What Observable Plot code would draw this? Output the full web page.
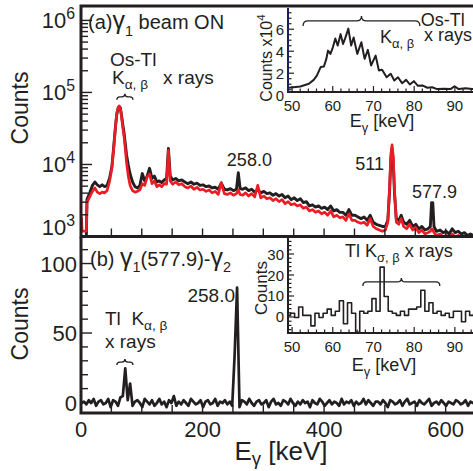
<!DOCTYPE html>
<html><head><meta charset="utf-8">
<script src="https://cdn.jsdelivr.net/npm/d3@7"></script>
<script src="https://cdn.jsdelivr.net/npm/@observablehq/plot@0.6"></script>
<style>
html,body{margin:0;padding:0;background:#fff;overflow:hidden;}
#fig{position:relative;width:473px;height:471px;overflow:hidden;background:#fff;}
#fig svg{position:absolute;left:0;top:0;}
</style></head><body><div id="fig"></div>
<script>
// ---------------- data ----------------
// (a) gamma singles, beam ON (counts per bin)
const energyA = [
  0,1,8,9,14,18,22,26,30,34,
  38,42,46,50,53,56,58,60,62,64,
  66,68,70,72,74,77,80,84,88,92,
  96,100,104,108,112,116,120,124,128,132,
  136,140,143,146,150,155,160,165,170,175,
  180,185,190,195,200,205,210,215,220,225,
  230,235,240,245,250,255,258,261,265,270,
  275,280,285,290,295,300,305,310,315,320,
  325,330,335,340,345,350,355,360,365,370,
  375,380,385,390,395,400,405,410,415,420,
  425,430,435,440,445,450,455,460,465,470,
  475,480,485,490,495,500,504,507,509,511,
  513,515,518,522,526,530,535,540,545,550,
  555,560,565,570,574,576,578,580,584,590,
  595,600,605,610,615,620,625,630,635,640,
  645,650];
const blackA = [
  1000,1000,1000,3300,4200,5200,5800,5300,5000,5300,
  5000,5200,6500,9500,18000,35000,50000,60000,65000,62000,
  48000,36000,28000,20000,14000,10000,7500,5800,5000,4800,
  5200,7600,6000,7000,9000,6500,7000,5800,6000,5700,
  6200,6500,17000,7000,6200,6500,6000,6200,5800,5500,
  5800,5400,5600,5200,5300,5000,5100,4800,4900,4600,
  5600,4600,4500,4700,4400,4600,7800,4700,4600,4800,
  4400,4600,4200,4500,4100,4300,4000,4100,3800,4000,
  3700,3900,3500,3700,3300,3500,3200,3400,3000,3100,
  2700,2800,2600,2700,2500,2600,2400,2700,2300,2400,
  2200,2200,2000,2400,2000,2000,1900,1800,1900,1700,
  2000,1600,1500,1450,1400,1400,1700,4500,12000,17000,
  11000,4000,1800,1700,2000,1600,1500,1700,1400,1500,
  1300,1400,1250,1300,1400,3000,3000,1400,1200,1250,
  1150,1200,1100,1300,1150,1200,1100,1150,1050,1100,
  1050,1100];
const redA = [
  1840,1210,1210,3000,3700,4300,4800,4200,4000,4200,
  4100,4400,5800,9000,17000,34000,52000,62000,66000,60000,
  46000,33000,25000,17000,11000,7000,5200,4400,4200,4300,
  4500,5500,5200,6800,7500,5500,6000,5000,5300,5000,
  5500,5400,16000,6000,5400,5800,5300,5500,5000,4800,
  5100,4600,4900,4500,4600,4300,4500,4100,4300,3900,
  5700,4000,3900,4100,3800,4000,4500,3900,3800,4100,
  3700,4000,3600,5200,3500,3700,3400,3500,3200,3400,
  3100,3300,2900,3100,2800,2900,2700,2800,2500,2600,
  2300,2400,2200,2300,2100,2200,2000,2300,1900,2000,
  1850,1900,1700,2100,1700,1700,1600,1550,1600,1450,
  1800,1400,1300,1250,1200,1250,1600,5000,14000,19000,
  13000,4500,1600,1500,1800,1400,1300,1500,1250,1350,
  1150,1250,1100,1150,1200,1300,1250,1150,1050,1100,
  1000,1050,980,1100,1000,1050,980,1000,960,1000,
  970,1000];

// (a) inset: Os-Tl K x rays (counts x10^4)
const energyInsetA = [49.1,51.9,54.0,55.2,56.0,56.9,57.7,58.3,58.7,59.3,
  59.9,60.5,61.1,61.8,62.4,63.0,63.7,64.4,65.0,65.9,
  66.9,67.7,68.5,69.3,70.4,71.2,72.0,73.1,74.1,75.0,
  75.9,76.9,77.9,78.8,79.8,80.8,81.9,83.1,84.3,85.5,
  87.2,88.8,89.8,90.8,92.5,94.1,95.0];
const countsInsetA = [0.72,0.84,1.08,1.44,1.84,2.6,2.65,3.35,4.1,3.8,
  4.4,5.2,4.56,5.6,4.7,5.3,6.1,4.56,5.3,3.8,
  4.86,3.35,4.17,2.75,3.65,2.3,2.35,1.68,2.0,1.38,
  1.68,1.14,1.44,1.02,1.32,0.9,0.93,0.72,0.77,0.6,
  0.63,0.6,0.86,0.6,0.68,0.6,0.62];

// (b) coincidence gamma1(577.9)-gamma2, 4 keV bins starting at 0 keV
const binWidthB = 4;
const countsB = [
  0,1,-1,2,0,3,-2,1,2,-1,
  0,3,-3,2,1,-2,4,5,25,2,
  14,-2,1,2,0,-3,3,1,-1,2,
  -2,0,3,-1,1,-3,2,0,5,-2,
  1,-1,2,0,-2,3,1,-1,0,2,
  -3,1,2,-1,0,3,-2,1,0,2,
  -1,1,-2,35,83,-3,2,1,-1,3,
  0,-2,1,2,-1,0,2,-3,1,3,
  -1,0,-2,2,1,-1,3,0,-2,1,
  -1,2,0,1,-3,2,0,-1,3,1,
  -2,0,2,-1,1,0,-2,3,-1,1,
  0,2,-2,1,-1,0,3,-1,2,0,
  -2,1,1,-1,2,0,-3,2,1,-1,
  0,2,-2,1,3,-1,0,1,-2,2,
  0,-1,1,3,-2,0,1,-1,2,0,
  -2,1,0,-1,2,1,-1,0,2,-2,
  1,0,1];

// (b) inset: Tl K x rays, 1 keV bins (centres)
const energyInsetB = [49,50,51,52,53,54,55,56,57,58,59,60,61,62,63,64,65,66,67,68,
  69,70,71,72,73,74,75,76,77,78,79,80,81,82,83,84,85,86,87,88,89,90,91,92,93,94,95];
const countsInsetB = [1,2,0,5,1,1,-4,2,0,2,4,1,3,8,-3,7,2,-7,3,2,
  3,9,3,24,10,3,2,1,3,1,4,4,5,13,3,7,2,3,1,2,0,3,3,-2,3,1,2];

// tick values
const ticksAy = [1e3, 1e4, 1e5, 1e6];
const ticksBx = [0, 200, 400, 600];
const ticksBy = [0, 50, 100];
const ticksInsetX = [50, 60, 70, 80, 90];
const ticksInsetAy = [0, 2, 4, 6];
const ticksInsetBy = [0, 10, 20, 30];

// ---------------- drawing ----------------
const K = "#231f20", RED = "#ec1c24", NAVY = "#1b1f5c";
const FONT = '"Liberation Sans", Arial, Helvetica, sans-serif';
const W = 473, H = 471;
const STYLE = `background: transparent; max-width: none; overflow: visible; font-family: ${FONT};`;

function custom(draw) {
  return (index, scales, values, dims) => {
    const g = d3.create("svg:g");
    draw(g, scales, dims);
    return g.node();
  };
}
function line(g, x1, y1, x2, y2, color, w) {
  g.append("line").attr("x1", x1).attr("y1", y1).attr("x2", x2).attr("y2", y2)
    .attr("stroke", color || K).attr("stroke-width", w || 1.4);
}
function rich(g, x, y, parts, size, o = {}) {
  const t = g.append("text").attr("x", x).attr("y", y).attr("font-size", size)
    .attr("font-family", FONT).attr("fill", K).attr("text-anchor", o.anchor || "start")
    .style("white-space", "pre");
  if (o.rotate) t.attr("transform", `rotate(${o.rotate} ${x} ${y})`);
  const subShift = o.subShift != null ? o.subShift : 0.32;
  let cur = 0;
  for (const p of parts) {
    const q = typeof p === "string" ? {t: p} : p;
    const fs = (q.sub || q.sup) ? size * 0.72 : size * (q.scale || 1);
    const off = q.sub ? size * subShift : q.sup ? -size * 0.42 : 0;
    t.append("tspan").attr("font-size", fs).attr("dy", off - cur).text(q.t);
    cur = off;
  }
  return t;
}
function brace(g, xa, xb, y, h) {
  const xm = (xa + xb) / 2, r = Math.min(h, (xb - xa) / 4);
  const d = `M${xa},${y + h} Q${xa},${y} ${xa + r},${y} L${xm - r},${y} Q${xm},${y} ${xm},${y - h}` +
            ` Q${xm},${y} ${xm + r},${y} L${xb - r},${y} Q${xb},${y} ${xb},${y + h}`;
  g.append("path").attr("d", d).attr("fill", "none").attr("stroke", K).attr("stroke-width", 1.3);
}
const EG = ["E", {t: "γ", sub: true}, " [keV]"];

const fig = document.getElementById("fig");

// ---- panel (a) main ----
const dataBlack = energyA.map((e, i) => ({e, c: blackA[i]}));
const dataRed = energyA.map((e, i) => ({e, c: redA[i]}));
fig.appendChild(Plot.plot({
  width: W, height: H, style: STYLE,
  marginLeft: 81, marginRight: 0, marginTop: 6, marginBottom: H - 236.5,
  x: {domain: [0, 645], axis: null},
  y: {type: "log", domain: [1e3, Math.pow(10, 6.2)], axis: null},
  marks: [
    Plot.line(dataBlack, {x: "e", y: "c", stroke: K, strokeWidth: 2.9, clip: true}),
    Plot.line(dataRed, {x: "e", y: "c", stroke: RED, strokeWidth: 2.7, clip: true}),
    custom((g, s, d) => {
      const x0 = d.marginLeft, y0 = d.marginTop, y1 = d.height - d.marginBottom;
      for (let e = 50; e <= 645; e += 50) line(g, s.x(e), y1, s.x(e), y1 - 8, K, 1.4);
      for (let k = 3; k <= 6; k++) for (let m = 1; m <= 9; m++) {
        const v = m * Math.pow(10, k);
        if (v > Math.pow(10, 6.2)) continue;
        const y = s.y(v);
        line(g, x0, y, x0 + (m === 1 ? 11 : 7), y, K, 1.4);
      }
      g.append("path").attr("d", `M${W + 5},${y0}H${x0}V${y1}H${W + 5}`)
        .attr("fill", "none").attr("stroke", K).attr("stroke-width", 3);
      for (const v of ticksAy) {
        const k = Math.round(Math.log10(v));
        rich(g, 75, Math.min(s.y(v) + 8, 235), ["10", {t: String(k), sup: true}], 22, {anchor: "end"});
      }
      rich(g, 28, 108, ["Counts"], 23, {anchor: "middle", rotate: -90});
      // annotations
      rich(g, s.x(11.5), s.y(7.5e5), ["(a)", {t: "γ", scale: 1.25}, {t: "1", sub: true}, " beam ON"], 20);
      rich(g, s.x(47.7), s.y(2.35e5), ["Os-Tl"], 19);
      rich(g, s.x(51), s.y(1.33e5), ["K", {t: "α, β", sub: true}], 19, {subShift: 0.28});
      rich(g, s.x(135), s.y(1.33e5), ["x rays"], 19);
      brace(g, s.x(59), s.x(85.5), s.y(8.7e4), 3);
      rich(g, s.x(240), s.y(9.5e3), ["258.0"], 18);
      rich(g, s.x(498.6), s.y(8.4e3), ["511"], 18, {anchor: "end"});
      rich(g, s.x(544.6), s.y(3.43e3), ["577.9"], 18);
    })
  ]
}));

// ---- panel (b) main ----
const dataB = countsB.map((c, i) => ({e: i * binWidthB, c}));
fig.appendChild(Plot.plot({
  width: W, height: H, style: STYLE,
  marginLeft: 81, marginRight: 0, marginTop: 237, marginBottom: 58,
  x: {domain: [0, 645], axis: null},
  y: {domain: [-7.55, 119.1], axis: null},
  marks: [
    Plot.line(dataB, {x: "e", y: "c", stroke: K, strokeWidth: 2.7, clip: true}),
    custom((g, s, d) => {
      const x0 = d.marginLeft, y0 = d.marginTop, y1 = d.height - d.marginBottom;
      for (let e = 50; e <= 645; e += 50) line(g, s.x(e), y1, s.x(e), y1 - 8, K, 1.4);
      for (let c = 0; c <= 110; c += 10) line(g, x0, s.y(c), x0 + (c % 50 === 0 ? 11 : 7), s.y(c), K, 1.4);
      g.append("path").attr("d", `M${x0},${y0}V${y1}H${W + 5}`)
        .attr("fill", "none").attr("stroke", K).attr("stroke-width", 3);
      for (const v of ticksBy) rich(g, 77, s.y(v) + 8, [String(v)], 22, {anchor: "end"});
      for (const v of ticksBx) rich(g, s.x(v), 437, [String(v)], 22, {anchor: "middle"});
      rich(g, 281, 460, EG, 26, {anchor: "middle", subShift: 0.2});
      rich(g, 28, 324, ["Counts"], 23, {anchor: "middle", rotate: -90});
      rich(g, s.x(14.8), s.y(98.2), ["(b) ", {t: "γ", scale: 1.25}, {t: "1", sub: true}, "(577.9)-", {t: "γ", scale: 1.25}, {t: "2", sub: true}], 20);
      rich(g, s.x(253.4), s.y(72.3), ["258.0"], 19, {anchor: "end"});
      rich(g, s.x(39.5), s.y(55.8), ["Tl  K", {t: "α, β", sub: true}], 19, {subShift: 0.28});
      rich(g, s.x(39.5), s.y(39.2), ["x rays"], 19);
      brace(g, s.x(59), s.x(85.5), s.y(29.1), 3);
    })
  ]
}));

// ---- inset (a) ----
const dataInsetA = energyInsetA.map((e, i) => ({e, c: countsInsetA[i]}));
fig.appendChild(Plot.plot({
  width: W, height: H, style: STYLE,
  marginLeft: 288, marginRight: 0, marginTop: 8, marginBottom: H - 92,
  x: {domain: [49, 94.45], axis: null},
  y: {domain: [0.29, 7.93], axis: null},
  marks: [
    Plot.line(dataInsetA, {x: "e", y: "c", stroke: K, strokeWidth: 2, clip: true}),
    custom((g, s, d) => {
      const x0 = d.marginLeft, y0 = d.marginTop, y1 = d.height - d.marginBottom;
      for (let e = 50; e <= 94; e += 2) line(g, s.x(e), y1, s.x(e), y1 - (e % 10 === 0 ? 6 : 3.5), K, 1.2);
      for (let v = 0.5; v <= 7.5; v += 0.5) line(g, x0, s.y(v), x0 + (v % 2 === 0 ? 6 : 3.5), s.y(v), K, 1.2);
      line(g, x0, y1, W + 5, y1, K, 2);
      line(g, x0, y0, x0, y1 + 1, NAVY, 2);
      for (const v of ticksInsetAy) rich(g, 284, s.y(v) + 5.5, [String(v)], 15, {anchor: "end"});
      for (const v of ticksInsetX) rich(g, s.x(v), 111, [String(v)], 15, {anchor: "middle"});
      rich(g, 382, 127, EG, 18, {anchor: "middle", subShift: 0.25});
      rich(g, 272, 58, ["Counts x10", {t: "4", sup: true}], 16, {anchor: "middle", rotate: -90});
      brace(g, s.x(52.7), s.x(81.4), s.y(6.75), 5);
      rich(g, s.x(81.6), s.y(6.3), ["Os-Tl"], 18);
      rich(g, s.x(71.6), s.y(4.75), ["K", {t: "α, β", sub: true}], 18, {subShift: 0.28});
      rich(g, s.x(82.4), s.y(4.93), ["x rays"], 18);
    })
  ]
}));

// ---- inset (b) ----
const dataInsetB = energyInsetB.map((e, i) => ({e, c: countsInsetB[i]}));
fig.appendChild(Plot.plot({
  width: W, height: H, style: STYLE,
  marginLeft: 288, marginRight: 0, marginTop: 238, marginBottom: H - 333,
  x: {domain: [49, 94.45], axis: null},
  y: {domain: [-7.62, 37.62], axis: null},
  marks: [
    Plot.line(dataInsetB, {x: "e", y: "c", curve: "step", stroke: K, strokeWidth: 1.6, clip: true}),
    custom((g, s, d) => {
      const x0 = d.marginLeft, y0 = d.marginTop, y1 = d.height - d.marginBottom;
      for (let e = 50; e <= 94; e += 2) line(g, s.x(e), y1, s.x(e), y1 - (e % 10 === 0 ? 6 : 3.5), K, 1.2);
      for (let v = -6; v <= 36; v += 2) line(g, x0, s.y(v), x0 + (v % 10 === 0 ? 6 : 3.5), s.y(v), K, 1.2);
      line(g, x0, y1, W + 5, y1, K, 2);
      line(g, x0, y0, x0, y1 + 1, K, 2);
      for (const v of ticksInsetBy) rich(g, 284, s.y(v) + 5.5, [String(v)], 15, {anchor: "end"});
      for (const v of ticksInsetX) rich(g, s.x(v), 352, [String(v)], 15, {anchor: "middle"});
      rich(g, 384, 371, EG, 18, {anchor: "middle", subShift: 0.25});
      rich(g, 267, 288, ["Counts"], 17, {anchor: "middle", rotate: -90});
      rich(g, s.x(63), s.y(28.6), ["Tl K", {t: "σ, β", sub: true}, " x rays"], 18, {subShift: 0.28});
      brace(g, s.x(67.4), s.x(86.3), s.y(16.7), 4);
    })
  ]
}));
</script></body></html>
